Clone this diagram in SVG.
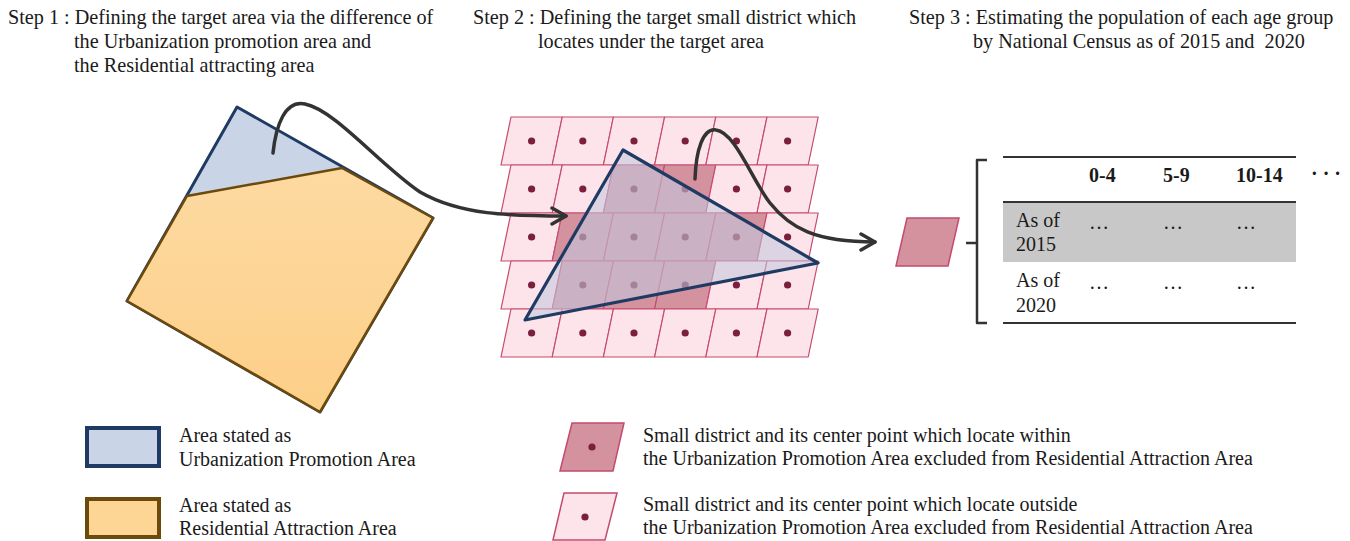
<svg xmlns="http://www.w3.org/2000/svg" xmlns:xlink="http://www.w3.org/1999/xlink" width="1350" height="541" viewBox="0 0 1350 541">
<style>
text{font-family:"Liberation Serif","Times New Roman",serif;fill:#1a1a1a;font-size:20px}
.step{font-size:20.2px}
.hdr{font-weight:bold;font-size:20px}
.cellp{stroke:#c44a6e;stroke-width:1.2;stroke-linejoin:round}
.lt{fill:#fde4ea}
.dk{fill:#d4929f}
.dot{fill:#7a1f3d}
.conn{fill:none;stroke:#333;stroke-width:3.5;stroke-linecap:round}
.rule{stroke:#333;stroke-width:2}
</style>
<defs>
<path id="cell" class="cellp" d="M10,0 L61.2,0 L51.2,48 L0,48 Z"/>
<linearGradient id="og" x1="0" y1="0" x2="0" y2="1">
<stop offset="0" stop-color="#fddaa2"/>
<stop offset="1" stop-color="#fdcf88"/>
</linearGradient>
<marker id="chev" markerUnits="userSpaceOnUse" viewBox="0 0 18 20" markerWidth="18" markerHeight="20" refX="16" refY="10" orient="auto">
<path d="M2,2 L16,10 L2,18" fill="none" stroke="#333" stroke-width="3.5" stroke-linecap="round" stroke-linejoin="round"/>
</marker>
</defs>

<g id="step1-title">
<text class="step" x="8" y="24">Step 1 : Defining the target area via the difference of</text>
<text class="step" x="74" y="48">the Urbanization promotion area and</text>
<text class="step" x="74" y="72">the Residential attracting area</text>
</g>
<g id="step2-title">
<text class="step" x="473" y="24">Step 2 : Defining the target small district which</text>
<text class="step" x="538" y="48">locates under the target area</text>
</g>
<g id="step3-title">
<text class="step" x="909" y="24">Step 3 : Estimating the population of each age group</text>
<text class="step" x="973" y="48">by National Census as of 2015 and&#160; 2020</text>
</g>

<g id="step1-areas">
<polygon points="237,107 433,218 320,412 127,301" fill="#c9d5e6" stroke="#1f3b63" stroke-width="3" stroke-linejoin="round"/>
<polygon points="187,196 342,168 433,218 320,412 127,301" fill="url(#og)" stroke="#6b4a0c" stroke-width="2.5" stroke-linejoin="round"/>
</g>

<g id="step2-grid">
<use href="#cell" class="lt" x="501" y="117"/><use href="#cell" class="lt" x="552.2" y="117"/><use href="#cell" class="lt" x="603.4" y="117"/><use href="#cell" class="lt" x="654.6" y="117"/><use href="#cell" class="lt" x="705.8" y="117"/><use href="#cell" class="lt" x="757" y="117"/>
<use href="#cell" class="lt" x="501" y="165"/><use href="#cell" class="lt" x="552.2" y="165"/><use href="#cell" class="dk" x="603.4" y="165"/><use href="#cell" class="dk" x="654.6" y="165"/><use href="#cell" class="lt" x="705.8" y="165"/><use href="#cell" class="lt" x="757" y="165"/>
<use href="#cell" class="lt" x="501" y="213"/><use href="#cell" class="dk" x="552.2" y="213"/><use href="#cell" class="dk" x="603.4" y="213"/><use href="#cell" class="dk" x="654.6" y="213"/><use href="#cell" class="dk" x="705.8" y="213"/><use href="#cell" class="lt" x="757" y="213"/>
<use href="#cell" class="lt" x="501" y="261"/><use href="#cell" class="dk" x="552.2" y="261"/><use href="#cell" class="dk" x="603.4" y="261"/><use href="#cell" class="dk" x="654.6" y="261"/><use href="#cell" class="lt" x="705.8" y="261"/><use href="#cell" class="lt" x="757" y="261"/>
<use href="#cell" class="lt" x="501" y="309"/><use href="#cell" class="lt" x="552.2" y="309"/><use href="#cell" class="lt" x="603.4" y="309"/><use href="#cell" class="lt" x="654.6" y="309"/><use href="#cell" class="lt" x="705.8" y="309"/><use href="#cell" class="lt" x="757" y="309"/>
<g class="dot">
<circle cx="531.6" cy="141" r="3.6"/><circle cx="582.8" cy="141" r="3.6"/><circle cx="634" cy="141" r="3.6"/><circle cx="685.2" cy="141" r="3.6"/><circle cx="736.4" cy="141" r="3.6"/><circle cx="787.6" cy="141" r="3.6"/>
<circle cx="531.6" cy="189" r="3.6"/><circle cx="582.8" cy="189" r="3.6"/><circle cx="634" cy="189" r="3.6"/><circle cx="685.2" cy="189" r="3.6"/><circle cx="736.4" cy="189" r="3.6"/><circle cx="787.6" cy="189" r="3.6"/>
<circle cx="531.6" cy="237" r="3.6"/><circle cx="582.8" cy="237" r="3.6"/><circle cx="634" cy="237" r="3.6"/><circle cx="685.2" cy="237" r="3.6"/><circle cx="736.4" cy="237" r="3.6"/><circle cx="787.6" cy="237" r="3.6"/>
<circle cx="531.6" cy="285" r="3.6"/><circle cx="582.8" cy="285" r="3.6"/><circle cx="634" cy="285" r="3.6"/><circle cx="685.2" cy="285" r="3.6"/><circle cx="736.4" cy="285" r="3.6"/><circle cx="787.6" cy="285" r="3.6"/>
<circle cx="531.6" cy="333" r="3.6"/><circle cx="582.8" cy="333" r="3.6"/><circle cx="634" cy="333" r="3.6"/><circle cx="685.2" cy="333" r="3.6"/><circle cx="736.4" cy="333" r="3.6"/><circle cx="787.6" cy="333" r="3.6"/>
</g>
<polygon points="623,150 818,263 525,320" fill="#c4c8de" fill-opacity="0.58" stroke="#1f3b63" stroke-width="3.2" stroke-linejoin="round"/>
</g>

<g id="step3-district">
<polygon class="dk" points="896,266 907,218 959,218 948,266" stroke="#c44a6e" stroke-width="1.5"/>
</g>

<g id="step3-table">
<path d="M987,160 L977,160 L977,323 L987,323 M977,243 L966,243" fill="none" stroke="#333" stroke-width="2.5" stroke-linejoin="round"/>
<rect x="1003" y="203" width="293" height="59" fill="#c8c8c8"/>
<line class="rule" x1="1003" y1="157" x2="1296" y2="157"/>
<line class="rule" x1="1003" y1="202" x2="1296" y2="202" stroke-width="3"/>
<line class="rule" x1="1003" y1="323" x2="1296" y2="323"/>
<text class="hdr" x="1089" y="182">0-4</text>
<text class="hdr" x="1163" y="182">5-9</text>
<text class="hdr" x="1236" y="182">10-14</text>
<text class="hdr" x="1311" y="180">· · ·</text>
<text x="1016" y="227">As of</text>
<text x="1016" y="251">2015</text>
<text x="1089" y="229">…</text>
<text x="1163" y="229">…</text>
<text x="1236" y="229">…</text>
<text x="1016" y="287">As of</text>
<text x="1016" y="312">2020</text>
<text x="1089" y="289">…</text>
<text x="1163" y="289">…</text>
<text x="1236" y="289">…</text>
</g>

<g id="connectors">
<path class="conn" marker-end="url(#chev)" d="M273,153 C276,125 285,100 305,104 C335,110 380,165 420,192 C460,215 510,216 566,216"/>
<path class="conn" marker-end="url(#chev)" d="M695,179 C696,150 703,128 716,130 C735,132 752,180 770,203 C790,228 815,242 875,242"/>
</g>

<g id="legend-upa">
<rect x="87" y="428" width="72" height="38" fill="#c9d5e6" stroke="#1f3b63" stroke-width="4"/>
<text x="179" y="442">Area stated as</text>
<text x="179" y="466">Urbanization Promotion Area</text>
</g>
<g id="legend-raa">
<rect x="87" y="499" width="72" height="38" fill="#fdd594" stroke="#6b4a0c" stroke-width="4"/>
<text x="179" y="512">Area stated as</text>
<text x="179" y="535">Residential Attraction Area</text>
</g>
<g id="legend-within">
<polygon class="dk" points="560,471 572,423 624,423 613,471" stroke="#c44a6e" stroke-width="1.5"/>
<circle class="dot" cx="592" cy="447" r="3.6"/>
<text x="643" y="442">Small district and its center point which locate within</text>
<text x="643" y="465">the Urbanization Promotion Area excluded from Residential Attraction Area</text>
</g>
<g id="legend-outside">
<polygon class="lt" points="553,540 564,493 617,493 605,540" stroke="#c44a6e" stroke-width="1.5"/>
<circle class="dot" cx="585" cy="517" r="3.6"/>
<text x="643" y="511">Small district and its center point which locate outside</text>
<text x="643" y="534">the Urbanization Promotion Area excluded from Residential Attraction Area</text>
</g>
</svg>
